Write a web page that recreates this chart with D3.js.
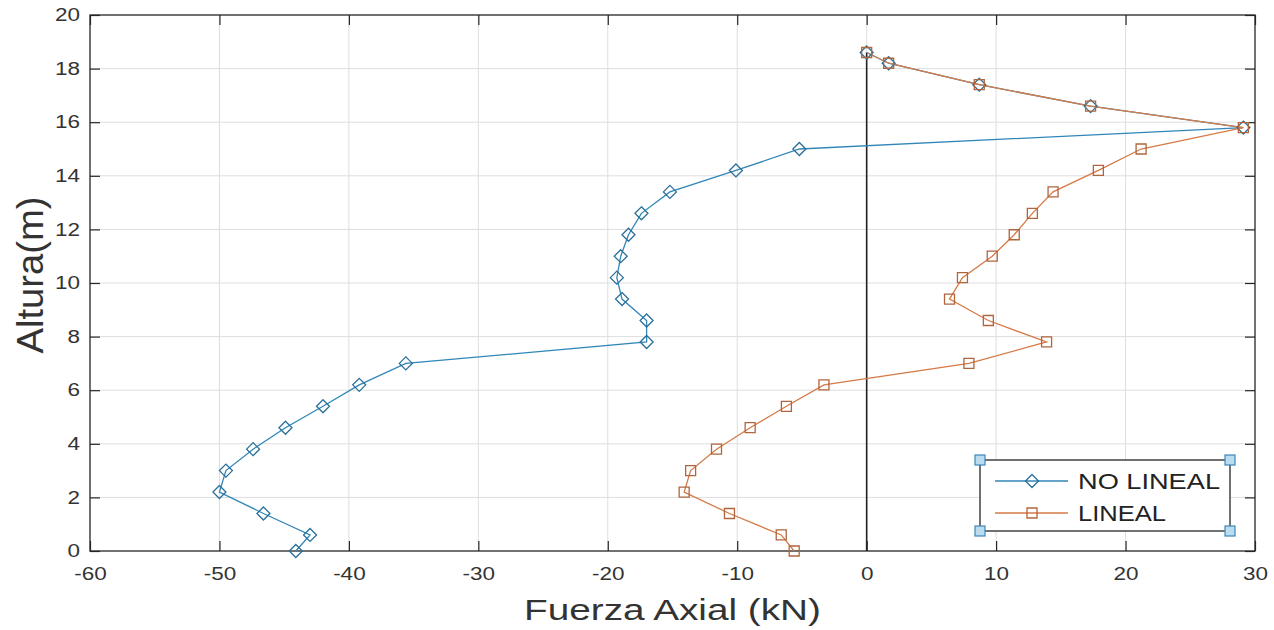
<!DOCTYPE html>
<html><head><meta charset="utf-8">
<script src="https://cdn.jsdelivr.net/npm/d3@7"></script>
<style>
html,body{margin:0;padding:0;background:#fff;}
svg{display:block;font-family:"Liberation Sans",Arial,sans-serif;}
</style></head>
<body>
<svg id="chart" width="1274" height="630"></svg>
<script>
// ---- data ----
const heights = [0,0.6,1.4,2.2,3.0,3.8,4.6,5.4,6.2,7.0,7.8,8.6,9.4,10.2,11.0,11.8,12.6,13.4,14.2,15.0,15.8,16.6,17.4,18.2,18.6];
const noLineal = [-44.1,-43.0,-46.6,-50.0,-49.5,-47.4,-44.9,-42.0,-39.2,-35.6,-17.0,-17.0,-18.9,-19.3,-19.0,-18.4,-17.4,-15.2,-10.1,-5.2,29.1,17.3,8.7,1.7,0];
const lineal   = [-5.6,-6.6,-10.6,-14.1,-13.6,-11.6,-9.0,-6.2,-3.3,7.9,13.9,9.4,6.4,7.4,9.7,11.4,12.8,14.4,17.9,21.2,29.1,17.3,8.7,1.7,0];
const zeroLineX = [0,0];
const zeroLineY = [0,18.6];
const xTicks = [-60,-50,-40,-30,-20,-10,0,10,20,30];
const yTicks = [0,2,4,6,8,10,12,14,16,18,20];
const seriesNames = ["NO LINEAL","LINEAL"];
const xTitle = "Fuerza Axial (kN)";
const yTitle = "Altura(m)";

// ---- layout ----
const L = 90, R = 1255, T = 15, B = 551;
const blue = "#3086b8", blueEdge = "#2a7099";
const orange = "#d67a46", orangeEdge = "#b0653c";
const axisColor = "#262626", textColor = "#333";

const svg = d3.select("#chart");
const x = d3.scaleLinear().domain([-60,30]).range([L,R]);
const y = d3.scaleLinear().domain([0,20]).range([B,T]);

// grid
const grid = svg.append("g");
grid.selectAll("line.gx").data(xTicks.slice(1,-1)).join("line")
  .attr("x1",d=>x(d)).attr("x2",d=>x(d)).attr("y1",T).attr("y2",B)
  .attr("stroke","#dedede").attr("stroke-width",1);
grid.selectAll("line.gy").data(yTicks.slice(1,-1)).join("line")
  .attr("y1",d=>y(d)).attr("y2",d=>y(d)).attr("x1",L).attr("x2",R)
  .attr("stroke","#dedede").attr("stroke-width",1);

// axes (ticks inward)
const fmt = d => String(d);
function styleAxis(g){
  g.select(".domain").remove();
  g.selectAll(".tick line").attr("stroke",axisColor).attr("stroke-width",1.2);
  g.selectAll(".tick text").attr("fill",textColor).attr("font-size",18)
   .attr("font-family","Liberation Sans, Arial, sans-serif");
}
const xAxisB = svg.append("g").attr("transform",`translate(0,${B})`)
  .call(d3.axisBottom(x).tickValues(xTicks).tickSize(-10).tickPadding(16).tickFormat(fmt));
styleAxis(xAxisB);
xAxisB.selectAll(".tick text").attr("transform","scale(1.25,1)").attr("dy","0.71em");
const xAxisT = svg.append("g").attr("transform",`translate(0,${T})`)
  .call(d3.axisTop(x).tickValues(xTicks).tickSize(-10).tickFormat(""));
styleAxis(xAxisT);
const yAxisL = svg.append("g").attr("transform",`translate(${L},0)`)
  .call(d3.axisLeft(y).tickValues(yTicks).tickSize(-10).tickPadding(8).tickFormat(fmt));
styleAxis(yAxisL);
yAxisL.selectAll(".tick text").attr("transform","scale(1.25,1)");
const yAxisR = svg.append("g").attr("transform",`translate(${R},0)`)
  .call(d3.axisRight(y).tickValues(yTicks).tickSize(-10).tickFormat(""));
styleAxis(yAxisR);

// box
svg.append("rect").attr("x",L).attr("y",T).attr("width",R-L).attr("height",B-T)
  .attr("fill","none").attr("stroke",axisColor).attr("stroke-width",1.3);

// zero line
const line = d3.line().x(d=>x(d[0])).y(d=>y(d[1]));
svg.append("path").datum(zeroLineX.map((v,i)=>[v,zeroLineY[i]]))
  .attr("d",line).attr("fill","none").attr("stroke","#222").attr("stroke-width",1.6);

// series
const dNo = noLineal.map((v,i)=>[v,heights[i]]);
const dLi = lineal.map((v,i)=>[v,heights[i]]);
svg.append("path").datum(dNo).attr("d",line).attr("fill","none").attr("stroke",blue).attr("stroke-width",1.3);
svg.append("path").datum(dLi).attr("d",line).attr("fill","none").attr("stroke",orange).attr("stroke-width",1.3);

const diamond = s => `M0,${-s}L${s},0L0,${s}L${-s},0Z`;
const square = s => `M${-s},${-s}H${s}V${s}H${-s}Z`;
svg.append("g").selectAll("path").data(dNo).join("path")
  .attr("transform",d=>`translate(${x(d[0])},${y(d[1])})`)
  .attr("d",diamond(6.5)).attr("fill","none").attr("stroke",blueEdge).attr("stroke-width",1.3);
svg.append("g").selectAll("path").data(dLi).join("path")
  .attr("transform",d=>`translate(${x(d[0])},${y(d[1])})`)
  .attr("d",square(5)).attr("fill","none").attr("stroke",orangeEdge).attr("stroke-width",1.3);

// titles
svg.append("text").attr("x",(L+R)/2).attr("y",620).attr("text-anchor","middle")
  .attr("font-size",30).attr("fill",textColor)
  .attr("textLength",297).attr("lengthAdjust","spacingAndGlyphs").text(xTitle);
svg.append("text").attr("transform",`translate(43,275) rotate(-90)`)
  .attr("text-anchor","middle").attr("font-size",36).attr("fill",textColor)
  .attr("textLength",157).attr("lengthAdjust","spacingAndGlyphs")
  .text(yTitle);

// legend
const lg = svg.append("g");
const lx0 = 980, ly0 = 460, lx1 = 1230, ly1 = 531;
lg.append("rect").attr("x",lx0).attr("y",ly0).attr("width",lx1-lx0).attr("height",ly1-ly0)
  .attr("fill","#fff").attr("stroke",axisColor).attr("stroke-width",1.3);
const rows = [{c:blue,e:blueEdge,m:diamond(6.5),yy:481,w:142},{c:orange,e:orangeEdge,m:square(5),yy:513,w:88}];
rows.forEach((r,i)=>{
  lg.append("line").attr("x1",995).attr("x2",1068).attr("y1",r.yy).attr("y2",r.yy)
    .attr("stroke",r.c).attr("stroke-width",1.3);
  lg.append("path").attr("transform",`translate(1032,${r.yy})`).attr("d",r.m)
    .attr("fill","none").attr("stroke",r.e).attr("stroke-width",1.3);
  lg.append("text").attr("x",1078).attr("y",r.yy+8).attr("font-size",22)
    .attr("fill","#222").attr("textLength",r.w).attr("lengthAdjust","spacingAndGlyphs")
    .text(seriesNames[i]);
});
// selection handles
[[lx0,ly0],[lx1,ly0],[lx0,ly1],[lx1,ly1]].forEach(p=>{
  lg.append("rect").attr("x",p[0]-5).attr("y",p[1]-5).attr("width",10).attr("height",10)
    .attr("fill","#b9dcf0").attr("stroke","#3f86b8").attr("stroke-width",1.2);
});
</script>
</body></html>
